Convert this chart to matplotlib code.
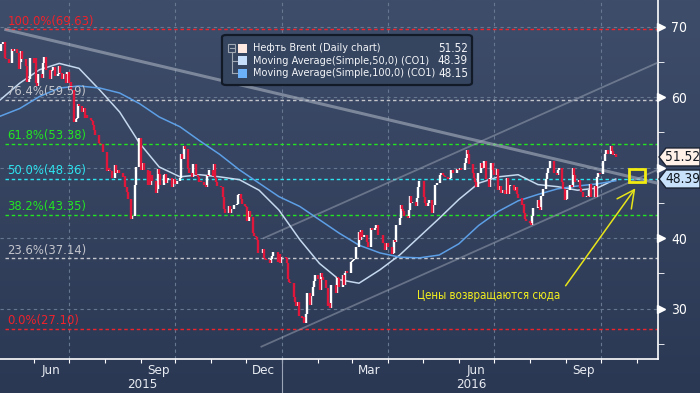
import matplotlib
matplotlib.use('Agg')
import matplotlib.pyplot as plt
import matplotlib.dates as mdates
from matplotlib.patches import Polygon, FancyBboxPatch, Rectangle
from matplotlib.transforms import blended_transform_factory, ScaledTranslation
from matplotlib.colors import LinearSegmentedColormap
import numpy as np
import pandas as pd

plt.rcParams['font.family'] = ['DejaVu Sans']
plt.rcParams['font.stretch'] = 'condensed'

# Brent daily closes, one row = one week (Mon..Fri), from 2015-05-04
closes = [
    67.5, 67.5, 67.8, 65.5, 65.4,
    64.9, 64.9, 66.8, 66.6, 66.8,
    66.3, 64.0, 65.0, 66.5, 65.4,
    64.5, 62.1, 62.1, 62.6, 65.6,
    64.9, 65.5, 62.0, 61.6, 63.3,
    62.7, 64.9, 65.7, 65.7, 63.9,
    62.6, 63.7, 63.9, 64.3, 63.0,
    63.3, 64.5, 63.5, 62.6, 63.3,
    62.0, 63.6, 62.0, 62.1, 61.0,
    56.5, 56.9, 57.1, 59.0, 58.7,
    57.9, 58.5, 57.1, 57.5, 57.1,
    56.7, 56.6, 56.1, 55.3, 54.6,
    53.5, 53.3, 53.4, 53.4, 52.2,
    49.5, 49.9, 49.6, 49.5, 48.6,
    50.4, 49.2, 49.7, 49.2, 49.2,
    48.7, 48.8, 47.2, 46.6, 45.5,
    42.7, 43.2, 43.1, 47.6, 50.1,
    54.2, 49.6, 50.5, 50.7, 49.6,
    47.6, 49.5, 47.6, 48.9, 48.1,
    46.4, 47.0, 49.8, 49.1, 47.5,
    48.9, 49.1, 47.8, 48.2, 48.6,
    47.3, 48.2, 48.4, 47.7, 48.1,
    48.5, 51.9, 51.3, 53.1, 52.7,
    49.9, 49.2, 49.2, 48.7, 50.5,
    49.0, 48.7, 47.9, 48.1, 48.0,
    47.5, 47.2, 49.0, 48.8, 49.6,
    48.8, 50.5, 48.6, 47.9, 47.4,
    47.2, 47.2, 45.8, 44.1, 43.6,
    44.6, 43.6, 44.1, 44.2, 44.7,
    44.8, 46.1, 46.2, 45.5, 44.9,
    44.6, 44.4, 42.5, 43.8, 43.0,
    40.7, 40.3, 40.1, 39.7, 37.9,
    37.9, 38.5, 37.2, 37.1, 36.9,
    36.4, 37.1, 37.4, 38.1, 38.1,
    36.6, 37.8, 36.5, 37.3, 37.3,
    37.2, 36.4, 34.2, 33.8, 33.6,
    31.6, 30.9, 30.3, 31.0, 28.9,
    28.6, 28.8, 27.9, 29.3, 32.2,
    30.5, 31.8, 33.1, 33.9, 34.7,
    34.2, 32.7, 35.0, 34.5, 34.1,
    32.9, 30.3, 30.8, 30.1, 33.4,
    33.4, 32.2, 34.5, 34.3, 33.0,
    34.7, 33.3, 35.0, 35.3, 35.1,
    36.6, 36.8, 36.9, 37.1, 38.7,
    40.8, 39.7, 41.1, 40.1, 40.4,
    39.5, 38.7, 38.7, 41.5, 41.2,
    41.5, 41.8, 40.5, 40.4, 40.4,
    39.3, 38.3, 39.1, 39.3, 38.7,
    37.7, 37.9, 39.8, 39.4, 41.9,
    42.8, 44.7, 44.2, 43.8, 43.1,
    42.9, 44.0, 46.0, 45.0, 45.1,
    44.5, 45.7, 47.2, 48.1, 48.1,
    45.8, 45.0, 44.6, 45.0, 45.4,
    43.6, 44.7, 47.6, 47.6, 47.8,
    49.0, 49.3, 49.0, 48.8, 48.7,
    48.4, 48.6, 49.7, 49.6, 49.3,
    49.8, 49.7, 49.7, 50.0, 49.6,
    50.6, 51.4, 52.5, 51.9, 50.5,
    49.3, 48.5, 48.0, 47.2, 49.2,
    50.7, 49.9, 49.9, 50.9, 48.4,
    47.2, 48.6, 50.6, 49.7, 48.9,
    49.8, 46.8, 47.4, 46.4, 46.8,
    46.3, 48.5, 46.3, 47.4, 47.6,
    46.9, 46.7, 47.2, 46.2, 45.7,
    44.7, 44.9, 43.5, 42.7, 42.5,
    42.1, 41.8, 43.1, 44.3, 44.3,
    45.4, 44.4, 44.0, 46.0, 47.0,
    48.4, 49.2, 49.9, 50.9, 50.9,
    49.2, 49.2, 49.0, 49.7, 49.9,
    48.0, 47.0, 45.4, 45.5, 46.8,
    47.6, 47.3, 50.0, 49.0, 48.0,
    48.3, 47.1, 46.6, 46.6, 45.8,
    46.0, 45.9, 46.8, 47.7, 45.9,
    47.4, 45.9, 48.7, 49.2, 49.1,
    50.9, 50.9, 51.9, 52.5, 51.9,
    53.1, 52.4, 51.8, 52.0, 51.52,
]
first_open = 66.5

# moving averages
ma_dates = ['2015-05-03', '2015-05-20', '2015-06-06', '2015-06-23', '2015-07-10',
            '2015-07-28', '2015-08-14', '2015-08-31', '2015-09-17', '2015-10-05',
            '2015-10-22', '2015-11-08', '2015-11-25', '2015-12-12', '2015-12-29',
            '2016-01-16', '2016-02-02', '2016-02-19', '2016-03-07', '2016-03-25',
            '2016-04-11', '2016-04-28', '2016-05-15', '2016-06-01', '2016-06-18',
            '2016-07-05', '2016-07-22', '2016-08-08', '2016-08-25', '2016-09-11',
            '2016-09-28', '2016-10-14']
ma50 = [59.6, 62.0, 63.9, 64.8, 64.1, 61.0, 57.9, 53.5, 50.1, 48.7,
        49.0, 48.7, 48.3, 46.8, 44.0, 39.8, 36.4, 34.1, 33.6, 35.5,
        37.6, 40.2, 42.8, 45.5, 47.8, 48.7, 49.0, 47.6, 47.3, 46.8,
        47.1, 48.39]
ma100 = [57.3, 58.4, 60.1, 61.3, 61.6, 61.3, 60.6, 59.1, 57.2, 55.8,
         53.8, 51.9, 49.7, 47.8, 45.9, 44.5, 42.6, 40.7, 39.0, 37.9,
         37.3, 37.2, 37.6, 39.2, 41.8, 43.8, 45.3, 46.2, 47.0, 47.4,
         47.7, 48.15]

fib_pct = ['100.0%', '76.4%', '61.8%', '50.0%', '38.2%', '23.6%', '0.0%']
fib_val = [69.63, 59.59, 53.38, 48.36, 43.35, 37.14, 27.10]

# trend lines: dates and values at both ends
down_dates, down_vals = ['2015-05-08', '2016-11-19'], [69.6, 47.8]
low_dates, low_vals = ['2015-12-14', '2016-11-19'], [24.6, 49.7]
up_dates, up_vals = ['2015-12-16', '2016-11-19'], [40.0, 64.9]

legend_names = ['Нефть Brent (Daily chart)',
                'Moving Average(Simple,50,0) (CO1)',
                'Moving Average(Simple,100,0) (CO1)']
legend_vals = [51.52, 48.39, 48.15]

fib_colors = ['#f0222a', '#c4c6cc', '#22e622', '#2ee4f0', '#22e622', '#c4c6cc', '#f0222a']
leg_colors = ['#fde9df', '#c6defa', '#6cb2fa']

W, H = 700, 393
fig = plt.figure(figsize=(7, 3.93), dpi=100)


def px(x, y):
    return x / W, 1 - y / H


# background gradient
bg = fig.add_axes([0, 0, 1, 1], zorder=-1)
cmap = LinearSegmentedColormap.from_list('bg', ['#2b3854', '#3e4d6a'])
bg.imshow(np.linspace(0, 1, 256).reshape(-1, 1), aspect='auto', cmap=cmap,
          extent=[0, 1, 0, 1], origin='lower')
bg.axis('off')

ax = fig.add_axes([0, 1 - 359.3 / H, 657.6 / W, 359.3 / H])
ax.set_facecolor('none')
xmin, xmax = pd.Timestamp('2015-05-03'), pd.Timestamp('2016-11-19')

# grid
for v in [30, 40, 50, 60, 70]:
    ax.axhline(v, color='#66788f', lw=0.8, ls=(0, (3, 3)), zorder=1)
for d in pd.date_range('2015-07-01', '2016-10-01', freq='QS'):
    ax.axvline(d, color='#66788f', lw=0.8, ls=(0, (3, 3)), zorder=1)

# fibonacci levels
bt = blended_transform_factory(ax.transAxes, ax.transData)
for p, v, c in zip(fib_pct, fib_val, fib_colors):
    ax.axhline(v, xmin=0.008, color=c, lw=1.0, ls=(0, (2.5, 2)), zorder=2)
    ax.text(0.011, v + 0.25, f'{p}({v:.2f})', transform=bt, color=c,
            fontsize=9.3, va='bottom', ha='left', zorder=6)

# trend lines
ax.plot(pd.to_datetime(down_dates), down_vals, color='#aab2c0', alpha=0.6, lw=2.2, zorder=3)
ax.plot(pd.to_datetime(low_dates), low_vals, color='#aab2c0', alpha=0.45, lw=1.3, zorder=3)
ax.plot(pd.to_datetime(up_dates), up_vals, color='#aab2c0', alpha=0.45, lw=1.3, zorder=3)

# moving averages
ax.plot(pd.to_datetime(ma_dates), ma50, color='#c4d8ee', lw=1.1, zorder=4)
ax.plot(pd.to_datetime(ma_dates), ma100, color='#5d9fe6', lw=1.1, zorder=4)

# candles
dates = pd.bdate_range('2015-05-04', periods=len(closes))
c = np.array(closes)
o = np.r_[first_open, c[:-1]]
up = c >= o
ax.vlines(dates[up], o[up], c[up], color='white', lw=1.7, zorder=5)
ax.vlines(dates[~up], c[~up], o[~up], color='#e0173a', lw=1.7, zorder=5)

ax.set_xlim(xmin, xmax)
ax.set_ylim(22.8, 73.8)

# axes styling
for s in ['left', 'top']:
    ax.spines[s].set_visible(False)
for s in ['right', 'bottom']:
    ax.spines[s].set_color('white')
    ax.spines[s].set_linewidth(1.2)
ax.yaxis.tick_right()
ax.set_yticks([30, 40, 50, 60, 70])
ax.set_yticklabels(['30', '40', '', '60', '70'])
ax.set_yticks([25, 35, 45, 55, 65], minor=True)
ax.tick_params(axis='y', which='major', length=0, pad=10, labelcolor='white', labelsize=10)
ax.tick_params(axis='y', which='minor', length=4, color='white', direction='out')
ax.plot([1] * 5, [30, 40, 50, 60, 70], ls='none', marker='>', ms=6, color='white',
        transform=bt + ScaledTranslation(3.5 / 100, 0, fig.dpi_scale_trans), clip_on=False)

ax.xaxis.set_major_locator(mdates.MonthLocator())
ax.tick_params(axis='x', length=3, color='white', direction='out', labelbottom=False)
xt = blended_transform_factory(ax.transData, ax.transAxes)
for m in ['2015-06-16', '2015-09-16', '2015-12-16', '2016-03-16', '2016-06-16', '2016-09-16']:
    ax.text(pd.Timestamp(m), -0.03, pd.Timestamp(m).strftime('%b'), transform=xt,
            ha='center', va='center', color='#e8ecf2', fontsize=9.5)
ax.text(142 / 657.6, -0.071, '2015', transform=ax.transAxes, ha='center', va='center',
        color='#e8ecf2', fontsize=9.5)
ax.text(471 / 657.6, -0.071, '2016', transform=ax.transAxes, ha='center', va='center',
        color='#e8ecf2', fontsize=9.5)
ax.plot([pd.Timestamp('2016-01-01')] * 2, [0, -0.094], transform=xt, color='#9aa6b8',
        lw=0.8, clip_on=False)

# price tags on the axis
ft = blended_transform_factory(fig.transFigure, ax.transData)
for val, fc in [(legend_vals[0], '#fff0e8'), (legend_vals[1], '#c8e2fb')]:
    h = 1.28
    pts = [(659 / W, val), (666 / W, val + h), (1.0, val + h), (1.0, val - h), (666 / W, val - h)]
    fig.add_artist(Polygon(pts, closed=True, fc=fc, ec='#1a2233', lw=1, transform=ft))
    fig.text(683 / W, val, f'{val:.2f}', transform=ft, ha='center', va='center',
             color='#111820', fontsize=9.8)

# legend
x0, y0 = px(222, 85)
x1, y1 = px(472, 35)
fig.add_artist(FancyBboxPatch((x0, y0), x1 - x0, y1 - y0, boxstyle='round,pad=0,rounding_size=0.006',
                              transform=fig.transFigure, fc='#36455f', ec='#121a28', lw=1.6))
rows = [48.3, 60.7, 73.3]
fig.add_artist(Rectangle(px(228, 52), 7 / W, 8 / H, transform=fig.transFigure,
                         fill=False, ec='#a0a8b4', lw=0.8))
fig.add_artist(plt.Line2D([229.5 / W, 233.5 / W], [px(0, 48)[1]] * 2, color='#a0a8b4', lw=0.8))
fig.add_artist(plt.Line2D([231.5 / W] * 2, [px(0, 52)[1], px(0, 73.3)[1]], color='#a0a8b4', lw=0.8))
for r in rows[1:]:
    fig.add_artist(plt.Line2D([231.5 / W, 237 / W], [px(0, r)[1]] * 2, color='#a0a8b4', lw=0.8))
for r, name, val, col in zip(rows, legend_names, legend_vals, leg_colors):
    fig.add_artist(Rectangle(px(238, r + 4.5), 9 / W, 9 / H, transform=fig.transFigure,
                             fc=col, ec='none'))
    fig.text(*px(252.7, r), name, ha='left', va='center', color='#f2f4f8', fontsize=7.8)
    fig.text(*px(468, r), f'{val:.2f}', ha='right', va='center', color='#f2f4f8', fontsize=8.4)

# annotation
fig.add_artist(Rectangle(px(629, 182), 16 / W, 13 / H, transform=fig.transFigure,
                         fill=False, ec='#f2ec10', lw=2))
ax.annotate('', xy=px(637, 186), xycoords='figure fraction', xytext=px(564, 288),
            textcoords='figure fraction',
            arrowprops=dict(arrowstyle='->,head_length=0.9,head_width=0.45',
                            color='#e8e41a', lw=1.1, mutation_scale=14))
fig.text(*px(489, 296), 'Цены возвращаются сюда', ha='center', va='center',
         color='#f2ee1e', fontsize=8.3)

fig.savefig('out.png', dpi=100)
